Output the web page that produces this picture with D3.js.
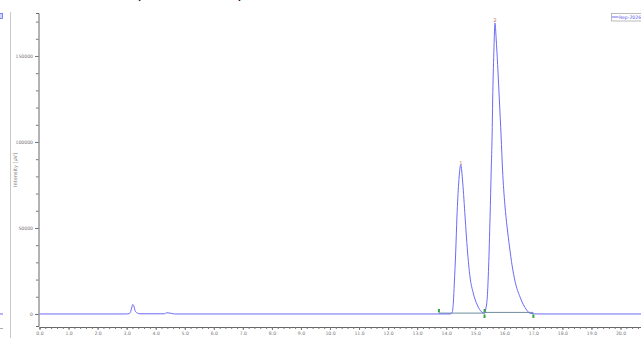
<!DOCTYPE html>
<html><head><meta charset="utf-8">
<script src="https://cdn.jsdelivr.net/npm/d3@7"></script>
<style>
html,body{margin:0;padding:0;background:#fff;overflow:hidden}
svg{display:block}
text{font-family:"DejaVu Sans",sans-serif}
</style></head>
<body>
<svg id="c" width="641" height="338"></svg>
<script>
// ---- data ----
const traceTime = [0, 3.0, 3.09, 3.14, 3.18, 3.21, 3.25, 3.29, 3.35, 3.46,
  4.30, 4.38, 4.45, 4.55, 4.65,
  14.10, 14.165, 14.21, 14.245, 14.28, 14.33, 14.37, 14.43, 14.50, 14.57, 14.65, 14.73, 14.82, 14.93, 15.07, 15.22,
  15.32, 15.37, 15.415, 15.46, 15.51, 15.55, 15.58, 15.60, 15.64, 15.68, 15.72, 15.77, 15.83, 15.89, 15.94, 16.02,
  16.10, 16.18, 16.27, 16.37, 16.54, 16.77, 16.90, 17.2, 21.0];
const traceValue = [0, 0, 200, 1500, 4000, 5500, 4500, 2000, 700, 100,
  100, 700, 600, 300, 0,
  0, 100, 1160, 6400, 18000, 37200, 56400, 76200, 86600, 76200, 56400, 37200, 21500, 12200, 5200, 1160,
  400, 3500, 9900, 27300, 56400, 83700, 103500, 124400, 152000, 169200, 160000, 145000, 124400, 103500, 83700, 63400,
  50000, 39000, 28000, 19000, 9900, 2300, 300, 0, 0];
const peakNames = ["1", "2"];
const peakTime = [14.50, 15.68];
const peakValue = [86600, 169200];
const baseSegStart = [13.75, 15.32];
const baseSegEnd = [15.32, 17.0];
const baseSegValue = [500, 900];
const markerTime = [13.75, 15.32, 15.32, 17.0];
const markerSide = ["up", "up", "down", "down"];
const yMajorTicks = [0, 50000, 100000, 150000];
const yMinorTicks = d3.range(0, 175001, 10000);
const xMajorTicks = d3.range(0, 21, 1);
const xMinorTicks = d3.range(0, 21.01, 0.2);
const yTitle = "Intensity [µV]";
const legendLabel = "Rep-2026-01";

// ---- drawing ----
const svg = d3.select("#c");
const x = d3.scaleLinear().domain([0, 21]).range([39.5, 39.5 + 21 * 29.05]);
const y = d3.scaleLinear().domain([-7000, 175000]).range([326, 13]);
const traceColor = "#6b6bf5";

// left panel remnants
svg.append("line").attr("x1", 10.5).attr("x2", 10.5).attr("y1", 12).attr("y2", 338)
  .attr("stroke", "#c8c8c8").attr("stroke-width", 1);
svg.append("rect").attr("x", -1).attr("y", 13.5).attr("width", 3.5).attr("height", 5)
  .attr("fill", "#cfd6ff").attr("stroke", "#5a6cf0").attr("stroke-width", 0.8);
svg.append("line").attr("x1", 0).attr("x2", 3).attr("y1", y(0)).attr("y2", y(0))
  .attr("stroke", traceColor).attr("stroke-width", 1);
svg.append("line").attr("x1", 0).attr("x2", 3).attr("y1", 328.5).attr("y2", 328.5)
  .attr("stroke", "#999").attr("stroke-width", 0.8);

// cut-off title parentheses
svg.append("text").attr("x", 135).attr("y", -0.8).attr("font-family", "Liberation Serif")
  .attr("font-size", 18).attr("fill", "#111").text("(");
svg.append("text").attr("x", 237).attr("y", -0.8).attr("font-family", "Liberation Serif")
  .attr("font-size", 18).attr("fill", "#111").text(")");

// y axis
const yMinor = d3.axisLeft(y).tickValues(yMinorTicks).tickSize(2.5).tickFormat("");
const yMajor = d3.axisLeft(y).tickValues(yMajorTicks).tickSize(3.5).tickPadding(2).tickFormat(d3.format("d"));
const gy1 = svg.append("g").attr("transform", "translate(38.5,0)").call(yMinor);
const gy2 = svg.append("g").attr("transform", "translate(38.5,0)").call(yMajor);
[gy1, gy2].forEach(g => {
  g.select(".domain").attr("stroke", "#666").attr("stroke-width", 1);
  g.selectAll(".tick line").attr("stroke", "#777");
});
gy2.select(".domain").remove();
gy2.selectAll("text").attr("font-size", 4.6).attr("fill", "#777");

svg.append("text").attr("transform", "translate(16.5,170) rotate(-90)")
  .attr("text-anchor", "middle").attr("font-size", 5).attr("fill", "#777").text(yTitle);

// x axis
const xMinor = d3.axisBottom(x).tickValues(xMinorTicks).tickSize(2).tickFormat("");
const xMajor = d3.axisBottom(x).tickValues(xMajorTicks).tickSize(3).tickPadding(2).tickFormat(d3.format(".1f"));
const gx1 = svg.append("g").attr("transform", "translate(0,327)").call(xMinor);
const gx2 = svg.append("g").attr("transform", "translate(0,327)").call(xMajor);
[gx1, gx2].forEach(g => {
  g.select(".domain").attr("stroke", "#666").attr("stroke-width", 1);
  g.selectAll(".tick line").attr("stroke", "#777");
});
gx2.select(".domain").remove();
gx2.selectAll("text").attr("font-size", 4.6).attr("fill", "#777");

// integration baselines
baseSegStart.forEach((s, i) => {
  svg.append("line").attr("x1", x(s)).attr("x2", x(baseSegEnd[i]))
    .attr("y1", y(baseSegValue[i])).attr("y2", y(baseSegValue[i]))
    .attr("stroke", "#6f8ea0").attr("stroke-width", 1);
});

// trace
const pts = traceTime.map((t, i) => [t, traceValue[i]]);
svg.append("path").datum(pts)
  .attr("d", d3.line().x(d => x(d[0])).y(d => y(d[1])).curve(d3.curveMonotoneX))
  .attr("fill", "none").attr("stroke", traceColor).attr("stroke-width", 1);

// baseline markers
markerTime.forEach((t, i) => {
  const cx = x(t), cy = y(0);
  const up = markerSide[i] === "up";
  svg.append("rect").attr("x", cx - 1).attr("y", up ? cy - 5 : cy + 0.5)
    .attr("width", 2).attr("height", 3.5).attr("fill", "#3aa53a");
});

// peak labels
peakTime.forEach((t, i) => {
  svg.append("text").attr("x", x(t)).attr("y", y(peakValue[i]) - 0.5)
    .attr("text-anchor", "middle").attr("font-size", 5).attr("fill", "#c07070").text(peakNames[i]);
});

// legend
svg.append("rect").attr("x", 611.5).attr("y", 13.5).attr("width", 40).attr("height", 7.5)
  .attr("fill", "#fff").attr("stroke", "#aaa").attr("stroke-width", 0.8);
svg.append("line").attr("x1", 612).attr("x2", 618.5).attr("y1", 17).attr("y2", 17)
  .attr("stroke", traceColor).attr("stroke-width", 1);
svg.append("text").attr("x", 619).attr("y", 19).attr("font-size", 4.6).attr("fill", "#5a5af0").text(legendLabel);
</script>
</body></html>
